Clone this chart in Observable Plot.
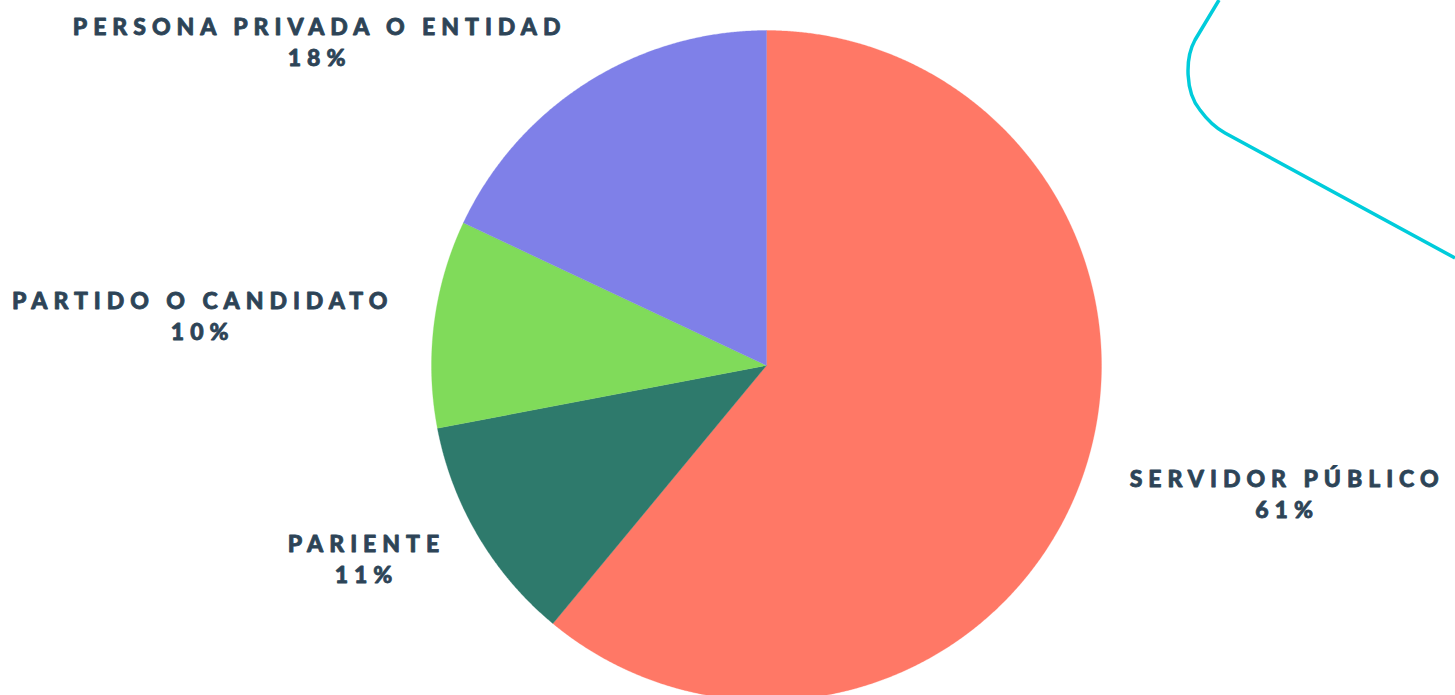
<!DOCTYPE html>
<html>
<head>
<meta charset="utf-8">
<script src="https://cdn.jsdelivr.net/npm/d3@7"></script>
<script src="https://cdn.jsdelivr.net/npm/@observablehq/plot@0.6"></script>
<style>
  html, body { margin: 0; padding: 0; background: #ffffff; }
  #wrap { position: relative; width: 1455px; height: 695px; overflow: hidden; }
  #deco { position: absolute; left: 0; top: 0; pointer-events: none; }
  #chart svg text { letter-spacing: 0.26em; }
</style>
</head>
<body>
<div id="wrap">
  <div id="chart"></div>
  <svg id="deco" width="1455" height="695">
    <path d="M1219,0 L1195,40 C1185,58 1185,92 1200,110 C1208,121 1216,128 1225,133 L1455,258"
          fill="none" stroke="#00CCDB" stroke-width="3.5"/>
  </svg>
</div>
<script>
// ---- data ----
const categories = ["SERVIDOR PÚBLICO", "PARIENTE", "PARTIDO O CANDIDATO", "PERSONA PRIVADA O ENTIDAD"];
const percents = [61, 11, 10, 18];
const colors = ["#FF7866", "#2E7A6C", "#80DB5A", "#7F80E8"];

// ---- layout ----
const W = 1455, H = 695;
const cx = 766, cy = 365, R = 335;
// label block centres, in radius units relative to pie centre (y up)
const labelOffsets = [[1.545, -0.378], [-1.203, -0.573], [-1.692, 0.151], [-1.343, 0.969]];

const total = d3.sum(percents);
const slices = [];
let acc = 0;
percents.forEach((v, i) => {
  const a0 = acc / total * 2 * Math.PI;
  acc += v;
  const a1 = acc / total * 2 * Math.PI;
  slices.push({name: categories[i], x: 0, y: 0});
  const n = Math.max(2, Math.ceil((a1 - a0) / (Math.PI / 720)));
  for (let k = 0; k <= n; k++) {
    const a = a0 + (a1 - a0) * k / n;
    slices.push({name: categories[i], x: Math.sin(a), y: Math.cos(a)});
  }
  slices.push({name: categories[i], x: 0, y: 0});
});

const labels = categories.map((c, i) => ({
  text: c + "\n" + percents[i] + "%",
  x: labelOffsets[i][0],
  y: labelOffsets[i][1]
}));

const plot = Plot.plot({
  width: W,
  height: H,
  margin: 0,
  style: {background: "transparent", fontFamily: "Lato, 'Noto Sans', sans-serif"},
  x: {domain: [-cx / R, (W - cx) / R], range: [0, W], axis: null},
  y: {domain: [-(H - cy) / R, cy / R], range: [H, 0], axis: null},
  color: {domain: categories, range: colors},
  marks: [
    Plot.line(slices, {x: "x", y: "y", z: "name", fill: "name", stroke: "name", strokeWidth: 0.3, curve: "linear"}),
    Plot.text(labels, {
      x: "x", y: "y", text: "text",
      fontSize: 23, fontWeight: 900, fill: "#2D4457",
      stroke: "#2D4457", strokeWidth: 0.8, paintOrder: "stroke",
      lineHeight: 1.35, textAnchor: "middle", dx: 3
    })
  ]
});
document.getElementById("chart").appendChild(plot);
</script>
</body>
</html>
